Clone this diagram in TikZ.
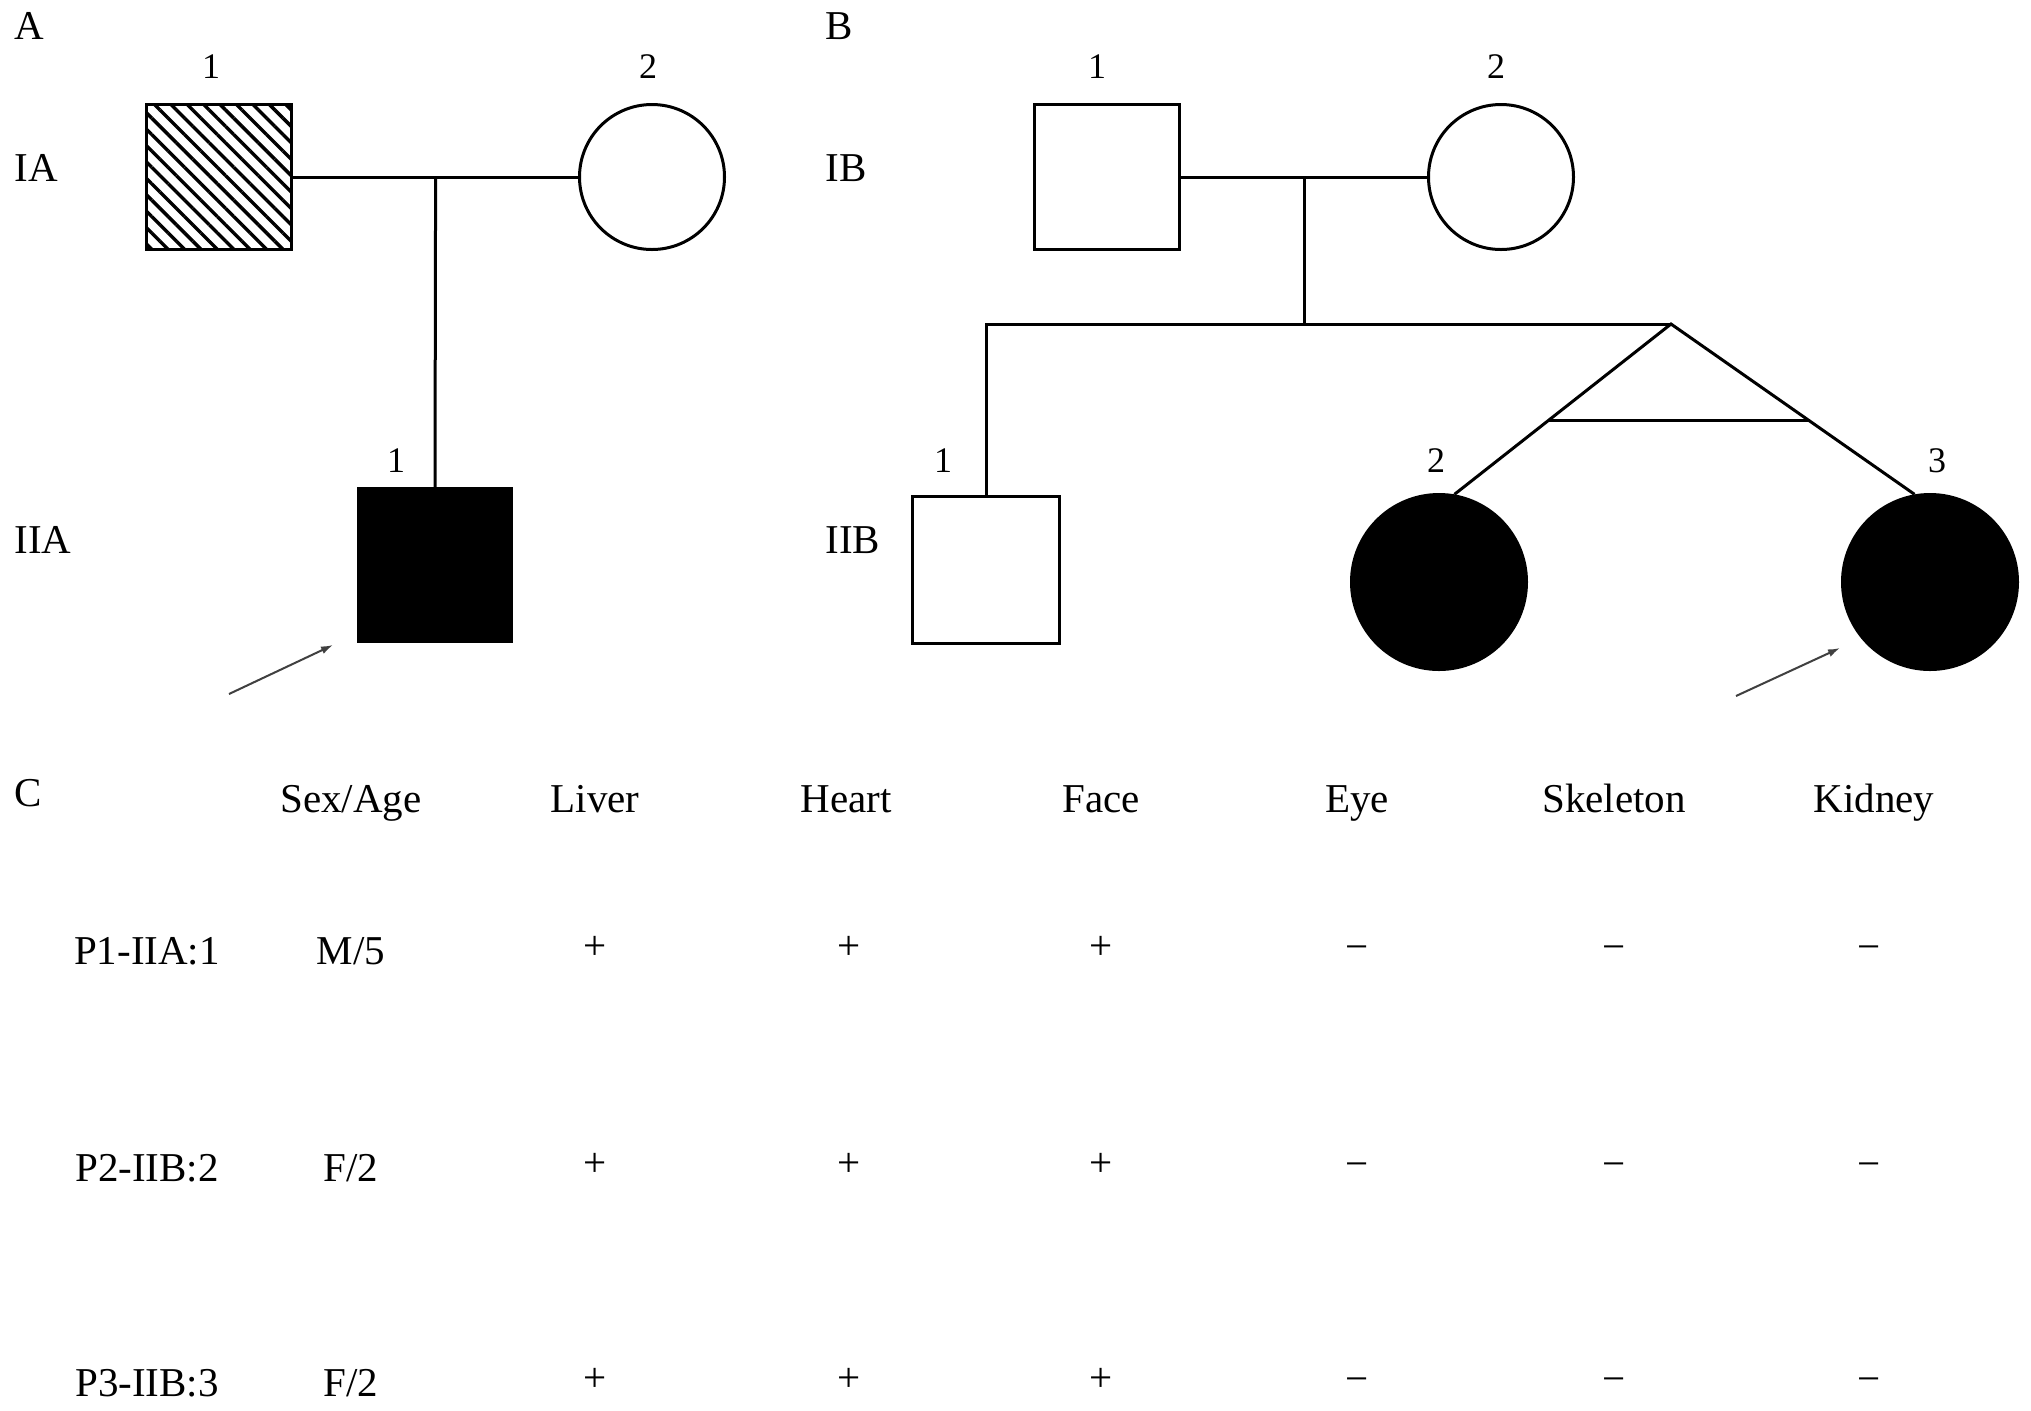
\documentclass[tikz,border=0pt]{standalone}
\usepackage{fontspec}
\setmainfont{Liberation Serif}
\usetikzlibrary{calc,arrows.meta,patterns.meta}

\begin{document}
\begin{tikzpicture}[x=0.5pt, y=-0.5pt, line width=1.5pt,
  every node/.style={inner sep=0pt, font=\fontsize{20.5}{24}\selectfont},
  male/.style={draw, rectangle, minimum size=72.5pt},
  female/.style={draw, circle, minimum size=72.5pt},
  affected/.style={fill=black},
  carrier/.style={pattern={Lines[angle=-45, distance=5.8pt, line width=1.7pt]}},
  num/.style={font=\fontsize{18}{20}\selectfont},
  proband/.style={draw=black!75, line width=1pt, -{Latex[length=6pt, width=4pt]}}]

\useasboundingbox (0,0) rectangle (2031,1410);

% family A
\node[anchor=west] (labA) at (13,26) {A};
\node[anchor=west] (genIA) at (13,168) {IA};
\node[anchor=west] (genIIA) at (13,540) {IIA};

\node[male, carrier] (IA1) at (219,177) {};
\node[female] (IA2) at (652,177) {};
\node[male, affected, minimum size=76.5pt] (IIA1) at (435,565) {};

\node[num] (nIA1) at (211,67) {1};
\node[num] (nIA2) at (648,67) {2};
\node[num] (nIIA1) at (396,461) {1};

\draw (IA1) -- (IA2);
\coordinate (mA) at ($(IA1.east)!0.5!(IA2.west)$);
\draw (mA) -- (IIA1.north);

\coordinate (pA) at (229,694);
\coordinate (pAtip) at (333,645);
\draw[proband] (pA) -- (pAtip);

% family B
\node[anchor=west] (labB) at (824,26) {B};
\node[anchor=west] (genIB) at (824,168) {IB};
\node[anchor=west] (genIIB) at (824,540) {IIB};

\node[male] (IB1) at (1107,177) {};
\node[female] (IB2) at (1501,177) {};
\node[male, minimum size=73.5pt] (IIB1) at (986,570) {};
\node[female, affected, minimum size=87.5pt] (IIB2) at (1439,582) {};
\node[female, affected, minimum size=87.5pt] (IIB3) at (1930,582) {};

\node[num] (nIB1) at (1097,67) {1};
\node[num] (nIB2) at (1496,67) {2};
\node[num] (nIIB1) at (943,461) {1};
\node[num] (nIIB2) at (1436,461) {2};
\node[num] (nIIB3) at (1937,461) {3};

\draw (IB1) -- (IB2);
\coordinate (mB) at ($(IB1.east)!0.5!(IB2.west)$);
\coordinate (apex) at (1671,324);
\draw (mB) -- (mB |- apex);
\draw (IIB1.north) |- (apex);
% twins
\draw (IIB2.80) -- (apex) -- (IIB3.100);
\draw ($(apex)!0.567!(IIB2.80)$) -- ($(apex)!0.567!(IIB3.100)$);

\coordinate (pB) at (1736,696);
\coordinate (pBtip) at (1840,648);
\draw[proband] (pB) -- (pBtip);

% table C
\node[anchor=west] (labC) at (13,793) {C};
\foreach \name/\x/\txt in {sex/351/{Sex/Age}, liv/595/Liver, hrt/846/Heart,
    fac/1101/Face, eye/1357/Eye, skl/1614/Skeleton, kid/1874/Kidney}
  \node[anchor=base] (h\name) at (\x,812) {\txt};

\foreach \r/\yb/\pid/\sa in {1/964/{P1-IIA:1}/{M/5}, 2/1181/{P2-IIB:2}/{F/2},
    3/1396/{P3-IIB:3}/{F/2}}
{
  \node[anchor=base] (pid\r) at (147,\yb) {\pid};
  \node[anchor=base] (sa\r) at (351,\yb) {\sa};
  \foreach \c/\x in {liv/595, hrt/849, fac/1101}
    \node (\c\r) at (\x,\yb-16) {+};
  \foreach \c/\x in {eye/1357, skl/1614, kid/1869}
    \node (\c\r) at (\x,\yb-11) {−};
}

\end{tikzpicture}
\end{document}
